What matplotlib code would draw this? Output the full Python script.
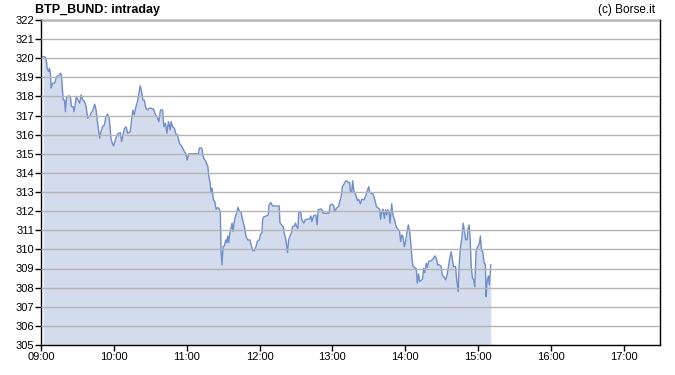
import matplotlib
matplotlib.use('Agg')
import matplotlib.pyplot as plt

# minutes after 09:00 and spread values
minutes = [1.6, 3.5, 4.4, 4.9, 6.0, 6.8, 7.6, 8.2, 9.0, 9.9, 11.2, 12.6, 14.5, 15.9, 16.7,
           18.1, 19.2, 20.0, 20.8, 22.7, 24.1, 24.9, 26.3, 27.1, 29.0, 30.4, 31.7, 32.9,
           34.2, 35.8, 37.0, 38.3, 39.7, 41.1, 42.7, 44.1, 45.2, 46.5, 48.2, 49.3, 50.6,
           52.0, 53.4, 54.7, 56.1, 57.5, 58.6, 59.7, 61.1, 62.5, 63.8, 65.2, 66.3, 67.7,
           68.7, 70.1, 71.2, 73.4, 74.5, 75.6, 76.7, 78.1, 79.4, 80.6, 81.6, 83.0, 83.8,
           84.9, 86.3, 87.6, 89.0, 90.7, 92.6, 94.2, 95.6, 97.0, 98.3, 100.0, 101.1, 102.4,
           103.6, 104.9, 106.3, 107.1, 108.2, 109.8, 111.0, 112.3, 113.9, 115.9, 118.0,
           119.2, 120.3, 121.7, 124.1, 126.8, 129.5, 130.4, 132.3, 133.7, 135.6, 137.3,
           138.1, 139.2, 140.0, 140.8, 141.9, 143.0, 144.1, 145.5, 146.6, 147.6, 148.2,
           149.0, 149.9, 150.9, 152.1, 152.9, 153.7, 154.5, 155.4, 156.4, 157.3, 158.1,
           158.9, 160.0, 161.1, 162.2, 163.3, 164.6, 166.0, 167.4, 168.8, 170.2, 172.0,
           173.1, 174.3, 175.6, 177.0, 178.0, 179.7, 180.8, 181.9, 182.5, 183.6, 185.8,
           187.1, 187.7, 189.1, 190.7, 196.1, 196.7, 198.1, 199.4, 200.2, 201.4, 202.2,
           203.0, 203.9, 204.9, 206.3, 207.1, 208.5, 209.6, 210.4, 211.5, 212.3, 213.7,
           214.8, 216.4, 217.5, 219.5, 221.1, 222.2, 223.0, 224.4, 226.3, 227.4, 228.2,
           229.6, 231.2, 232.3, 237.2, 238.1, 239.5, 241.1, 241.9, 243.3, 245.0, 246.0,
           247.1, 248.2, 249.9, 251.2, 253.2, 254.2, 254.8, 255.9, 256.7, 257.5, 259.2,
           260.6, 261.6, 263.0, 264.1, 266.0, 267.2, 268.5, 269.9, 270.7, 272.1, 273.4,
           274.8, 276.2, 277.8, 278.9, 279.7, 280.8, 281.6, 282.8, 283.8, 284.7, 285.5,
           286.6, 287.4, 288.0, 288.8, 289.8, 291.2, 292.6, 294.0, 295.3, 296.2, 297.2,
           298.1, 299.2, 300.0, 301.3, 302.5, 303.6, 304.4, 305.5, 306.3, 307.7, 309.1,
           309.9, 311.0, 311.8, 312.9, 314.2, 315.1, 316.1, 317.3, 318.1, 319.2, 320.6,
           321.6, 323.3, 324.4, 325.5, 326.8, 328.2, 329.6, 330.4, 331.8, 333.2, 334.2,
           335.6, 336.4, 337.8, 338.9, 339.7, 341.4, 342.4, 343.6, 344.4, 345.5, 346.6,
           347.7, 348.8, 349.8, 351.0, 351.5, 352.6, 353.5, 354.3, 355.4, 356.4, 357.2,
           358.4, 359.7, 361.1, 361.9, 362.7, 363.8, 365.0, 366.0, 366.6, 367.4, 368.5,
           369.3, 370.4]
values = [320.08, 320.05, 319.82, 319.47, 319.3, 319.47, 319.2, 318.43, 318.6, 318.7, 318.7,
          319.03, 319.1, 319.21, 319.1, 317.82, 317.8, 317.2, 317.9, 318.03, 317.97, 317.47,
          317.47, 317.2, 318.0, 317.8, 317.65, 318.08, 317.82, 317.72, 317.47, 316.86,
          316.94, 317.12, 317.3, 317.59, 317.3, 316.6, 315.81, 316.16, 316.42, 316.5,
          316.94, 317.08, 316.86, 315.81, 315.55, 315.41, 315.72, 315.98, 316.07, 316.1,
          315.64, 316.07, 316.34, 316.4, 316.07, 316.15, 316.77, 317.29, 317.03, 317.47,
          317.73, 318.16, 318.55, 318.16, 317.81, 317.81, 317.38, 317.29, 317.38, 317.38,
          317.33, 317.03, 316.94, 316.68, 317.29, 317.29, 316.42, 316.6, 316.07, 316.68,
          316.25, 316.68, 316.42, 316.33, 316.03, 315.98, 315.55, 315.38, 315.11, 315.0,
          314.67, 315.0, 315.0, 315.0, 315.0, 315.3, 315.3, 314.8, 314.6, 314.33, 313.84,
          313.46, 312.94, 313.2, 312.59, 312.5, 312.1, 312.19, 312.12, 311.98, 309.88,
          309.19, 310.14, 310.18, 310.49, 310.35, 310.7, 310.35, 310.84, 311.1, 311.37,
          310.93, 311.37, 311.71, 311.89, 312.2, 311.98, 311.98, 311.54, 311.19, 310.67,
          310.49, 310.49, 310.23, 309.93, 309.93, 310.14, 310.41, 310.49, 310.81, 310.84,
          311.58, 311.71, 311.75, 311.8, 312.32, 312.45, 312.27, 312.27, 311.4, 311.28,
          311.19, 310.84, 310.58, 310.23, 309.83, 310.49, 310.67, 310.88, 311.19, 311.22,
          311.37, 311.19, 311.1, 311.98, 311.98, 311.54, 311.37, 311.54, 311.58, 311.58,
          311.75, 311.45, 311.75, 311.8, 311.28, 312.07, 312.1, 312.1, 311.89, 311.89,
          312.32, 312.37, 312.27, 311.98, 312.15, 312.24, 312.5, 312.72, 313.28, 313.46,
          313.59, 313.5, 313.49, 313.02, 313.02, 313.59, 313.07, 312.85, 312.55, 312.62,
          312.38, 312.62, 312.59, 312.76, 313.02, 313.28, 312.97, 312.93, 312.9, 312.62,
          312.24, 312.15, 312.1, 311.58, 311.98, 312.1, 311.62, 312.07, 311.8, 312.07,
          311.98, 311.37, 311.8, 312.38, 311.8, 311.54, 311.16, 311.06, 310.93, 310.41,
          310.76, 310.67, 310.14, 310.32, 310.84, 311.28, 310.93, 310.41, 309.54, 309.13,
          309.06, 308.98, 308.23, 308.72, 308.32, 308.37, 308.44, 309.01, 308.78, 309.27,
          309.06, 309.36, 309.4, 309.41, 309.54, 309.66, 309.54, 309.19, 309.19, 309.1,
          308.66, 308.58, 308.41, 308.58, 309.1, 309.45, 309.88, 309.45, 309.1, 309.1,
          308.41, 307.79, 309.19, 310.14, 310.58, 311.37, 310.93, 310.5, 310.5, 311.02,
          311.28, 310.5, 309.1, 308.49, 308.41, 308.05, 309.97, 310.14, 310.32, 310.7,
          309.97, 309.88, 309.27, 309.24, 307.53, 308.32, 308.61, 308.14, 309.19]

tick_labels = ["09:00", "10:00", "11:00", "12:00", "13:00", "14:00", "15:00", "16:00", "17:00"]
y_min, y_max = 305, 322

plt.rcParams['font.family'] = ['Liberation Sans', 'DejaVu Sans']

fig = plt.figure(figsize=(6.75, 3.75), dpi=100)
ax = fig.add_axes([0.061, 0.08, 0.917, 0.867])

ax.fill_between(minutes, values, y_min, color='#d3dcec', linewidth=0)
ax.plot(minutes, values, color='#6f8ccc', linewidth=1.0)

ax.set_xlim(0, 510)
ax.set_ylim(y_min, y_max)
ax.set_xticks([60 * i for i in range(len(tick_labels))])
ax.set_xticklabels(tick_labels)
ax.set_yticks(range(y_min, y_max + 1))
ax.grid(axis='y', color='#b4b4b4', linewidth=1.0)
ax.set_axisbelow(False)
ax.tick_params(direction='out', length=4, width=1, labelsize=8, pad=1)
for s in ax.spines.values():
    s.set_linewidth(1.0)
    s.set_color('black')

fig.text(0.052, 0.972, "BTP_BUND: intraday", fontsize=9, fontweight='bold', va='center')
fig.text(0.97, 0.972, "(c) Borse.it", fontsize=8.5, va='center', ha='right')

plt.savefig("out.png", dpi=100)
